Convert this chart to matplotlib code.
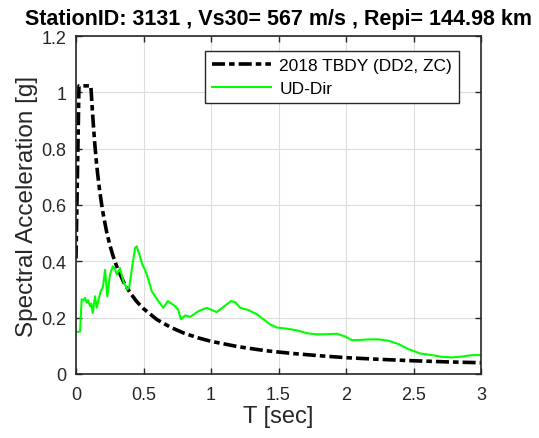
import matplotlib
matplotlib.use("Agg")
import matplotlib.pyplot as plt

plt.rcParams['font.family'] = ['Liberation Sans', 'DejaVu Sans']

title = "StationID: 3131 , Vs30= 567 m/s , Repi= 144.98 km"
xlabel = "T [sec]"
ylabel = "Spectral Acceleration [g]"
legend_labels = ["2018 TBDY (DD2, ZC)", "UD-Dir"]

xticks = [0, 0.5, 1, 1.5, 2, 2.5, 3]
xticklabels = ["0", "0.5", "1", "1.5", "2", "2.5", "3"]
yticks = [0, 0.2, 0.4, 0.6, 0.8, 1.0, 1.2]
yticklabels = ["0", "0.2", "0.4", "0.6", "0.8", "1", "1.2"]

# design spectrum
T_tbdy = [0, 0.022, 0.11, 0.12, 0.13, 0.14, 0.15, 0.16, 0.175, 0.19, 0.2, 0.225, 0.25,
          0.275, 0.3, 0.35, 0.4, 0.45, 0.5, 0.6, 0.7, 0.8, 0.9, 1.0, 1.2, 1.4, 1.6,
          1.8, 2.0, 2.25, 2.5, 2.75, 3.0]
Sa_tbdy = [0.41, 1.023, 1.023, 0.945, 0.875, 0.812, 0.758, 0.712, 0.652, 0.602, 0.572,
           0.509, 0.459, 0.418, 0.384, 0.329, 0.289, 0.257, 0.232, 0.193, 0.166, 0.145,
           0.129, 0.116, 0.097, 0.083, 0.073, 0.065, 0.058, 0.052, 0.047, 0.043, 0.040]

T_ud = [0, 0.03, 0.042, 0.055, 0.067, 0.079, 0.09, 0.104, 0.113, 0.124, 0.141, 0.153,
        0.165, 0.183, 0.2, 0.215, 0.232, 0.252, 0.272, 0.287, 0.302, 0.326, 0.35, 0.38,
        0.395, 0.413, 0.437, 0.45, 0.474, 0.49, 0.511, 0.53, 0.561, 0.61, 0.647, 0.68,
        0.734, 0.755, 0.778, 0.808, 0.845, 0.907, 0.969, 1.006, 1.043, 1.105, 1.149,
        1.18, 1.216, 1.277, 1.34, 1.438, 1.488, 1.562, 1.636, 1.71, 1.772, 1.85, 1.933,
        1.994, 2.044, 2.105, 2.18, 2.24, 2.315, 2.39, 2.463, 2.55, 2.637, 2.711, 2.785,
        2.86, 2.933, 3.0]
Sa_ud = [0.15, 0.15, 0.265, 0.262, 0.27, 0.253, 0.262, 0.241, 0.25, 0.217, 0.276, 0.235,
         0.26, 0.294, 0.31, 0.37, 0.276, 0.353, 0.382, 0.375, 0.353, 0.376, 0.33, 0.30,
         0.31, 0.37, 0.447, 0.453, 0.417, 0.39, 0.37, 0.345, 0.294, 0.259, 0.235, 0.259,
         0.241, 0.23, 0.194, 0.208, 0.203, 0.223, 0.235, 0.227, 0.22, 0.243, 0.259,
         0.255, 0.235, 0.227, 0.212, 0.176, 0.165, 0.161, 0.155, 0.145, 0.141, 0.141,
         0.143, 0.133, 0.12, 0.121, 0.123, 0.123, 0.118, 0.106, 0.088, 0.073, 0.067,
         0.061, 0.059, 0.062, 0.067, 0.067]

plt.rcParams['lines.scale_dashes'] = False
fig = plt.figure(figsize=(5.39, 4.39), dpi=100)
ax = fig.add_axes([76/539, 1-375/439, 405/539, 338/439])

dark = '#262626'
l1, = ax.plot(T_tbdy, Sa_tbdy, color='black', lw=2.6, label=legend_labels[0],
              dash_capstyle='butt')
l1.set_dashes([9.4, 2.9, 4.0, 2.9])
l2, = ax.plot(T_ud, Sa_ud, color='#00ff00', lw=1.5, label=legend_labels[1])

ax.set_xlim(0, 3)
ax.set_ylim(0, 1.2)
ax.set_xticks(xticks)
ax.set_xticklabels(xticklabels)
ax.set_yticks(yticks)
ax.set_yticklabels(yticklabels)
ax.tick_params(direction='in', length=4, width=1, colors=dark, labelsize=13,
               top=True, right=True)
ax.tick_params(axis='x', pad=9)
ax.tick_params(axis='y', pad=7)
for s in ax.spines.values():
    s.set_color(dark)
    s.set_linewidth(1.2)
ax.grid(True, color='#dcdcdc', lw=0.8)
ax.set_axisbelow(True)

ax.set_xlabel(xlabel, fontsize=17, color=dark, labelpad=1)
ax.set_ylabel(ylabel, fontsize=17.5, color=dark, labelpad=2)
ax.set_title(title, fontsize=15.5, fontweight='bold', color='black', pad=9)

leg = ax.legend(loc='upper right', bbox_to_anchor=(0.946, 0.957), borderaxespad=0,
                fontsize=12.5, fancybox=False, framealpha=1, edgecolor=dark,
                handlelength=3.4, handletextpad=0.5, borderpad=0.4, labelspacing=0.5)
leg.get_frame().set_linewidth(1.0)

fig.savefig('out.png', dpi=100)
